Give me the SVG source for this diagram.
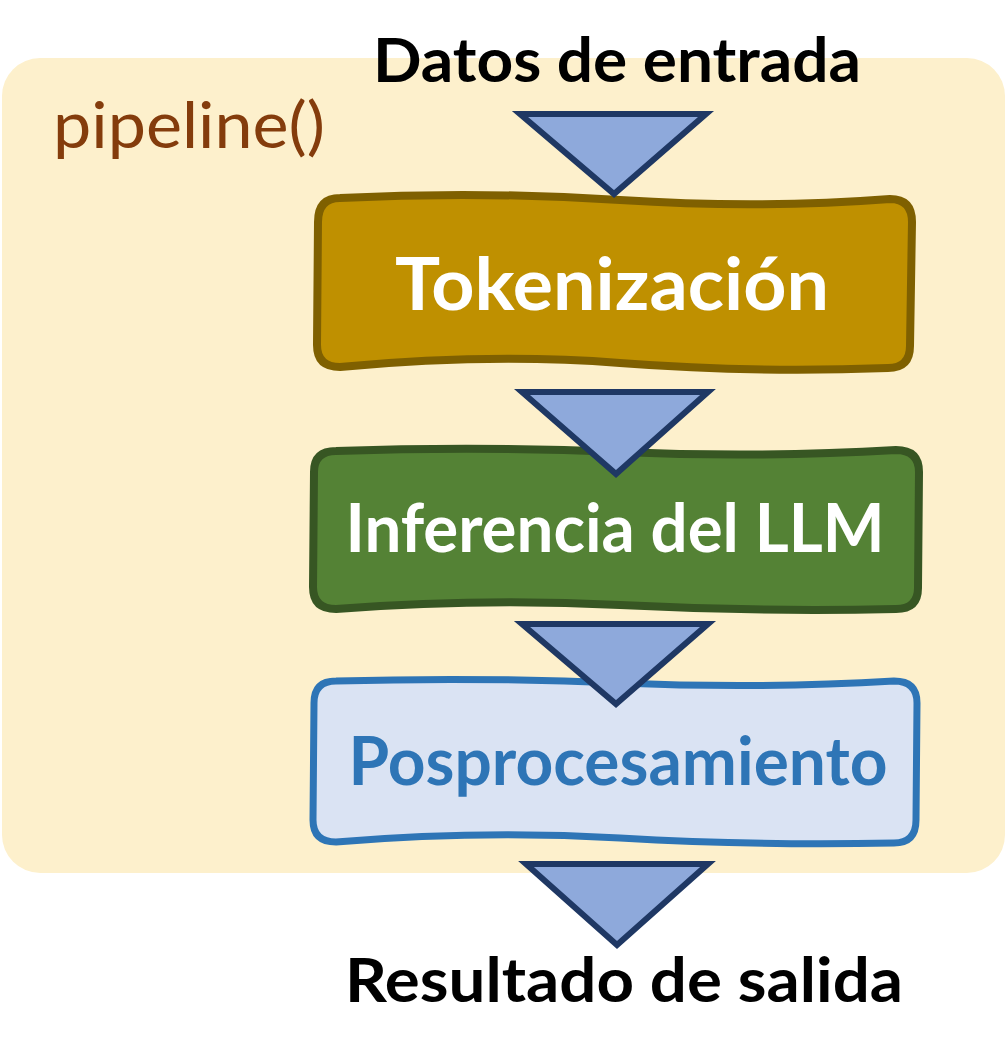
<svg xmlns="http://www.w3.org/2000/svg" width="1008" height="1060" viewBox="0 0 1008 1060">
<style>
.lbl{font-family:Lato,"Open Sans","Liberation Sans",sans-serif;font-weight:700;text-anchor:middle}
.big{font-size:72px;fill:#ffffff}
.mid{font-size:66px}
.io{font-size:61px;fill:#000000}
.tri{fill:#8EA9DB;stroke:#1F3864;stroke-width:6;stroke-linejoin:miter}
</style>
<rect width="1008" height="1060" fill="#ffffff"/>
<g id="pipeline">
<rect x="2" y="58" width="1003" height="815" rx="38" fill="#FDF0CC"/>
<text x="53" y="148" font-family="Lato,'Open Sans',sans-serif" font-size="64" fill="#843C0C" textLength="272" lengthAdjust="spacingAndGlyphs">pipeline()</text>
</g>
<g id="input">
<text class="lbl io" x="617" y="82" textLength="488" lengthAdjust="spacingAndGlyphs">Datos de entrada</text>
</g>
<g id="tokenizacion">
<path d="M340,198 Q480,191 620,200 T890,199 Q912,199 912,222 L910,346 Q910,368 888,368 Q750,373 620,363 T340,367 Q317,367 317,345 L318,222 Q318,198 340,198 Z" fill="#BF9000" stroke="#7F6000" stroke-width="8"/>
<text class="lbl big" x="612" y="310" textLength="434" lengthAdjust="spacingAndGlyphs">Tokenización</text>
</g>
<g id="inferencia">
<path d="M336,451 Q480,446 620,452 T896,450 Q919,450 919,472 L918,588 Q918,609 896,609 Q760,612 620,605 T336,609 Q313,609 313,587 L314,472 Q314,451 336,451 Z" fill="#548235" stroke="#375623" stroke-width="8"/>
<text class="lbl mid" x="615" y="552" fill="#ffffff" textLength="539" lengthAdjust="spacingAndGlyphs">Inferencia del LLM</text>
</g>
<g id="posprocesamiento">
<path d="M336,681 Q480,677 620,683 T894,681 Q917,681 917,703 L916,820 Q916,843 894,843 Q760,846 620,838 T336,842 Q313,842 313,820 L314,703 Q314,681 336,681 Z" fill="#DAE3F3" stroke="#2E75B6" stroke-width="7"/>
<text class="lbl mid" x="618" y="785" fill="#2E75B6" textLength="539" lengthAdjust="spacingAndGlyphs">Posprocesamiento</text>
</g>
<g id="output">
<text class="lbl io" x="624" y="1002" textLength="558" lengthAdjust="spacingAndGlyphs">Resultado de salida</text>
</g>
<g id="connectors">
<polygon class="tri" points="520,114 706,114 614,194"/>
<polygon class="tri" points="522,392 708,392 616,474"/>
<polygon class="tri" points="522,624 708,624 616,704"/>
<polygon class="tri" points="526,864 708,864 617,945"/>
</g>
</svg>
